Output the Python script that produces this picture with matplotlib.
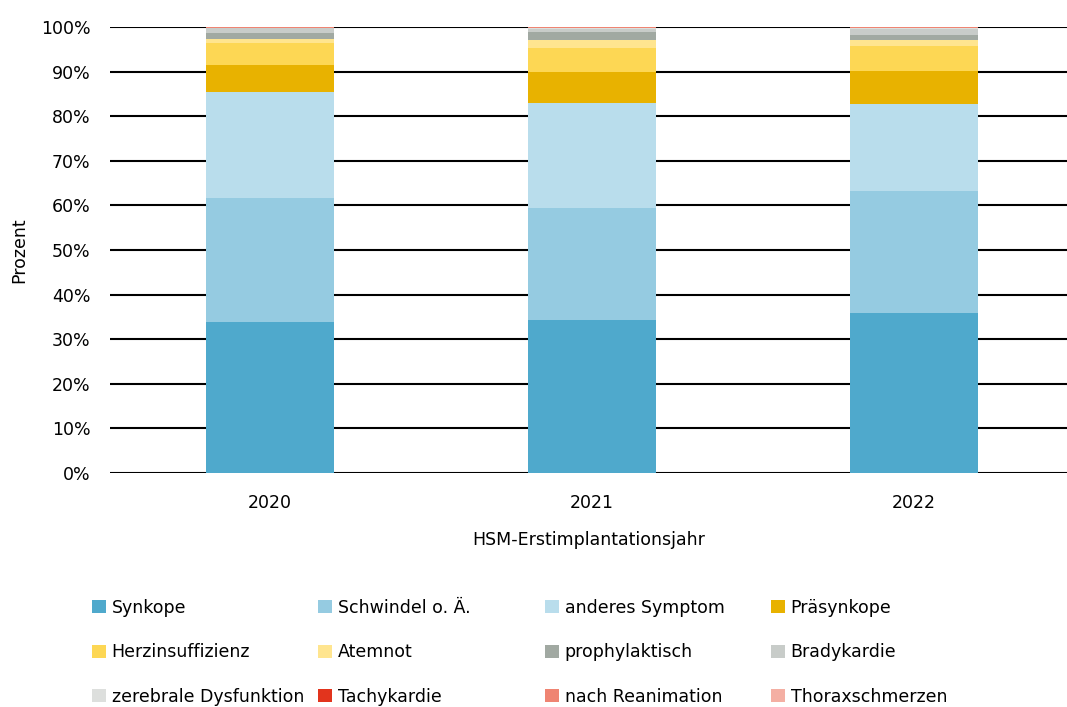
import matplotlib.pyplot as plt
import numpy as np
from matplotlib.patches import Patch

plt.rcParams['font.family'] = ['DejaVu Sans']

years = ["2020", "2021", "2022"]
categories = ["Synkope", "Schwindel o. Ä.", "anderes Symptom", "Präsynkope",
              "Herzinsuffizienz", "Atemnot", "prophylaktisch", "Bradykardie",
              "zerebrale Dysfunktion", "Tachykardie", "nach Reanimation", "Thoraxschmerzen"]
colors = ["#4FA9CC", "#95CBE1", "#B9DDEC", "#E8B200",
          "#FDD754", "#FFE58F", "#A1A9A2", "#C8CCC9",
          "#DDDFDD", "#E2341D", "#EF8472", "#F4AFA3"]

# percent per year, one list per category
synkope = [33.9, 34.3, 35.9]
schwindel = [27.8, 25.1, 27.3]
anderes = [23.7, 23.6, 19.5]
praesynkope = [6.0, 6.9, 7.5]
herzinsuff = [5.1, 5.5, 5.4]
atemnot = [0.8, 1.6, 1.5]
prophylaktisch = [1.4, 1.9, 1.1]
bradykardie = [1.0, 0.7, 1.4]
zerebral = [0.1, 0.2, 0.1]
tachykardie = [0.05, 0.05, 0.05]
reanimation = [0.1, 0.05, 0.15]
thorax = [0.05, 0.1, 0.05]

series = [synkope, schwindel, anderes, praesynkope, herzinsuff, atemnot,
          prophylaktisch, bradykardie, zerebral, tachykardie, reanimation, thorax]

data = np.array(series, dtype=float)
data = data / data.sum(axis=0) * 100

fig = plt.figure(figsize=(10.67, 7.07), dpi=100)
ax = fig.add_axes([110 / 1067, 1 - 473 / 707, (1067 - 110) / 1067, (473 - 27) / 707])

x = np.arange(len(years))
bottom = np.zeros(len(years))
for vals, col in zip(data, colors):
    ax.bar(x, vals, 0.4, bottom=bottom, color=col, zorder=3)
    bottom += vals

fs = 12.5
ax.set_ylim(0, 100)
ax.set_xlim(-0.497, 2.475)
ax.set_yticks(np.arange(0, 101, 10))
ax.set_yticklabels([f"{v}%" for v in range(0, 101, 10)], fontsize=fs)
ax.set_xticks(x)
ax.set_xticklabels(years, fontsize=fs)
ax.grid(axis='y', color='black', linewidth=1.5, zorder=1)
ax.tick_params(axis='y', length=0, pad=14)
ax.tick_params(axis='x', length=0, pad=15)
for s in ax.spines.values():
    s.set_visible(False)
ax.set_xlabel("HSM-Erstimplantationsjahr", fontsize=fs, labelpad=14)
ax.set_ylabel("Prozent", fontsize=fs, labelpad=9)

handles = [Patch(facecolor=c, edgecolor='none') for c in colors]
col_x = [92, 318, 545, 771]
for c in range(4):
    idx = [c, c + 4, c + 8]
    fig.legend([handles[i] for i in idx], [categories[i] for i in idx],
               loc='upper left', bbox_to_anchor=(col_x[c] / 1067, 1 - 599 / 707),
               frameon=False, fontsize=fs, handlelength=0.78, handleheight=0.78,
               handletextpad=0.35, labelspacing=1.52, borderpad=0, borderaxespad=0)

fig.savefig("out.png", dpi=100)
